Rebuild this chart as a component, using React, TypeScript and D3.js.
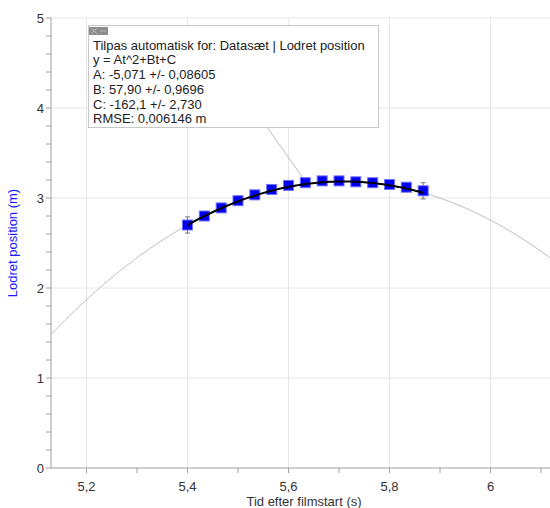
import React from "react";
import * as d3 from "d3";

// ---- data ----
const times = [5.4, 5.4333, 5.4667, 5.5, 5.5333, 5.5667, 5.6, 5.6333, 5.6667, 5.7, 5.7333, 5.7667, 5.8, 5.8333, 5.8667];
const positions = [2.70, 2.80, 2.89, 2.97, 3.035, 3.095, 3.14, 3.17, 3.19, 3.19, 3.18, 3.17, 3.15, 3.12, 3.08];
const errors = [0.09, 0, 0, 0, 0, 0, 0, 0, 0, 0, 0, 0, 0, 0, 0.09];
const xTickLabels = [5.2, 5.4, 5.6, 5.8, 6.0];
const yTickLabels = [0, 1, 2, 3, 4, 5];
const fitCoefs = [-5.071, 57.90, -162.09]; // A, B, C
const fitLines = [
  "Tilpas automatisk for: Datasæt | Lodret position",
  "y = At^2+Bt+C",
  "A: -5,071 +/- 0,08605",
  "B: 57,90 +/- 0,9696",
  "C: -162,1 +/- 2,730",
  "RMSE: 0,006146 m",
];

const W = 550;
const H = 508;
const FONT = "Liberation Sans, Arial, sans-serif";

export default function App() {
  const x = d3.scaleLinear().domain([5.2, 6.0]).range([86.5, 490.5]);
  const y = d3.scaleLinear().domain([0, 5]).range([468, 18]);
  const axisX = 51;
  const axisY = 468;
  const tMin = x.invert(axisX);
  const tMax = x.invert(W);
  const f = (t: number) => fitCoefs[0] * t * t + fitCoefs[1] * t + fitCoefs[2];

  const fullT = d3.range(0, 201).map((i) => tMin + ((tMax - tMin) * i) / 200);
  const dataT = d3.range(0, 101).map((i) => times[0] + ((times[times.length - 1] - times[0]) * i) / 100);
  const line = d3.line<number>().x((t) => x(t)).y((t) => y(f(t)));

  const minorX = d3.range(5.2, 6.15, 0.1).filter((v) => x(v) >= axisX && x(v) <= W);
  const minorY = d3.range(0, 5.01, 0.2);
  const fmt = (v: number) => (Math.abs(v - Math.round(v)) < 1e-9 ? String(Math.round(v)) : v.toFixed(1).replace(".", ","));

  const boxX = 88, boxY = 25, boxW = 290, boxH = 102;

  return (
    <svg width={W} height={H} style={{ position: "absolute", left: 0, top: 0, background: "#fff" }} fontFamily={FONT}>
      {/* grid */}
      {xTickLabels.map((v) => (
        <line key={"gx" + v} x1={x(v)} x2={x(v)} y1={y(5)} y2={axisY} stroke="#e6e6e6" strokeWidth={1} />
      ))}
      {yTickLabels.filter((v) => v > 0).map((v) => (
        <line key={"gy" + v} x1={axisX} x2={W} y1={y(v)} y2={y(v)} stroke="#e6e6e6" strokeWidth={1} />
      ))}
      {/* axes */}
      <line x1={axisX} x2={axisX} y1={y(5)} y2={axisY} stroke="#a0a0a0" />
      <line x1={axisX} x2={W} y1={axisY} y2={axisY} stroke="#a0a0a0" />
      {minorX.map((v, i) => (
        <line key={"tx" + i} x1={x(v)} x2={x(v)} y1={axisY} y2={axisY + 5} stroke="#a0a0a0" />
      ))}
      {minorY.map((v, i) => (
        <line key={"ty" + i} x1={axisX - 5} x2={axisX} y1={y(v)} y2={y(v)} stroke="#a0a0a0" />
      ))}
      {xTickLabels.map((v) => (
        <text key={"lx" + v} x={x(v)} y={491} fontSize={13} fill="#333" textAnchor="middle">{fmt(v)}</text>
      ))}
      {yTickLabels.map((v) => (
        <text key={"ly" + v} x={44} y={y(v) + 4.5} fontSize={13} fill="#333" textAnchor="end">{fmt(v)}</text>
      ))}
      <text x={304} y={506} fontSize={13} fill="#333" textAnchor="middle">Tid efter filmstart (s)</text>
      <text transform={`translate(17,243) rotate(-90)`} fontSize={13} fill="#1a1aff" textAnchor="middle">Lodret position (m)</text>

      {/* fit curve */}
      <path d={line(fullT) || ""} fill="none" stroke="#bdbdbd" strokeWidth={1} />
      {/* leader line */}
      <line x1={267} y1={boxY + boxH} x2={x(times[7]) - 2} y2={y(positions[7]) - 4} stroke="#bdbdbd" strokeWidth={1} />
      {/* error bars */}
      {times.map((t, i) =>
        errors[i] > 0 ? (
          <g key={"e" + i} stroke="#777" strokeWidth={1} fill="none">
            <line x1={x(t)} x2={x(t)} y1={y(positions[i] + errors[i])} y2={y(positions[i] - errors[i])} />
            <line x1={x(t) - 2.5} x2={x(t) + 2.5} y1={y(positions[i] + errors[i])} y2={y(positions[i] + errors[i])} />
            <line x1={x(t) - 2.5} x2={x(t) + 2.5} y1={y(positions[i] - errors[i])} y2={y(positions[i] - errors[i])} />
          </g>
        ) : null
      )}
      {/* markers */}
      {times.map((t, i) => (
        <rect key={"p" + i} x={x(t) - 5} y={y(positions[i]) - 5} width={10} height={10} fill="#0000f0" stroke="#7070ff" strokeWidth={1} />
      ))}
      {/* fit over data range */}
      <path d={line(dataT) || ""} fill="none" stroke="#000" strokeWidth={2} />

      {/* annotation box */}
      <rect x={boxX + 0.5} y={boxY + 0.5} width={boxW} height={boxH} fill="#fff" stroke="#c8c8c8" strokeWidth={1} />
      <rect x={89} y={27} width={19} height={8} fill="#8c8c8c" />
      <line x1={91} x2={97} y1={28} y2={34} stroke="#b8b8b8" strokeWidth={1} />
      <line x1={97} x2={91} y1={28} y2={34} stroke="#b8b8b8" strokeWidth={1} />
      <line x1={100} x2={106} y1={31} y2={31} stroke="#b8b8b8" strokeWidth={1} />
      {fitLines.map((s, i) => (
        <text key={"fl" + i} x={93} y={49.5 + i * 14.75} fontSize={13} fill="#222">{s}</text>
      ))}
    </svg>
  );
}
